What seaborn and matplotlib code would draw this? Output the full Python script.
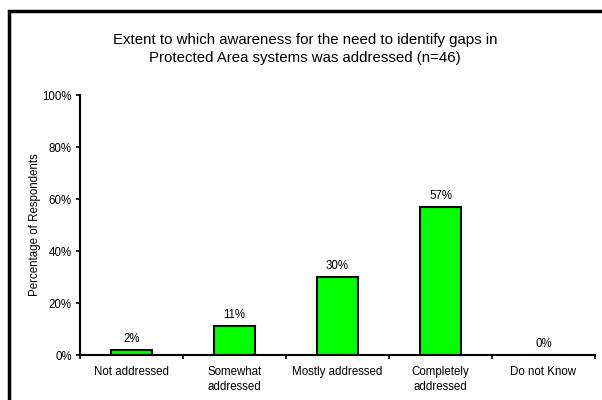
import matplotlib
matplotlib.use("Agg")
import matplotlib.pyplot as plt
from matplotlib.patches import Rectangle
from matplotlib.ticker import FixedLocator, PercentFormatter
import seaborn as sns
import pandas as pd

categories = ["Not addressed", "Somewhat\naddressed", "Mostly addressed",
              "Completely\naddressed", "Do not Know"]
percentages = [2, 11, 30, 57, 0]
y_ticks = [0, 20, 40, 60, 80, 100]

sns.set_theme(style="white")
plt.rcParams["font.family"] = ["Liberation Sans", "DejaVu Sans"]
plt.rcParams["text.color"] = "black"
plt.rcParams["axes.labelcolor"] = "black"
plt.rcParams["xtick.color"] = "black"
plt.rcParams["ytick.color"] = "black"

df = pd.DataFrame({"category": categories, "pct": percentages})

fig = plt.figure(figsize=(6.02, 4.0), dpi=100)
ax = fig.add_axes([80 / 602, 1 - 355 / 400, 515 / 602, 260 / 400])

sns.barplot(data=df, x="category", y="pct", ax=ax, color="#00ff00",
            saturation=1, width=0.4, edgecolor="black", linewidth=1.5)

for i, v in enumerate(percentages):
    ax.text(i, v + 2.0, f"{v}%", ha="center", va="bottom", fontsize=8.3)

ax.set_xlim(-0.5, len(categories) - 0.5)
ax.set_ylim(0, 100)
ax.yaxis.set_major_locator(FixedLocator(y_ticks))
ax.yaxis.set_major_formatter(PercentFormatter(decimals=0))
ax.xaxis.set_major_locator(FixedLocator(range(len(categories))))
ax.set_xticklabels(categories, fontsize=8.3, linespacing=1.3)
ax.xaxis.set_minor_locator(FixedLocator([i + 0.5 for i in range(-1, len(categories))]))
ax.tick_params(axis="x", which="major", length=0, pad=8)
ax.tick_params(axis="x", which="minor", length=3, width=1.2, direction="out",
               color="black", bottom=True)
ax.tick_params(axis="y", length=3, width=1.2, direction="out", color="black",
               left=True, labelsize=8.3, pad=3)

for side in ("top", "right"):
    ax.spines[side].set_visible(False)
for side in ("left", "bottom"):
    ax.spines[side].set_color("black")
    ax.spines[side].set_linewidth(1.5)

ax.set_xlabel("")
ax.set_ylabel("Percentage of Respondents", fontsize=8.3, labelpad=1)

fig.text(305 / 602, 1 - 49 / 400,
         "Extent to which awareness for the need to identify gaps in\n"
         "Protected Area systems was addressed (n=46)",
         ha="center", va="center", fontsize=10.8, linespacing=1.3)

fig.patches.append(Rectangle((8.5 / 602, -0.1), 1.2, 1 - 10.5 / 400 + 0.1,
                             transform=fig.transFigure, fill=False,
                             edgecolor="black", linewidth=2.5, clip_on=False))

fig.savefig("out.png", dpi=100)
